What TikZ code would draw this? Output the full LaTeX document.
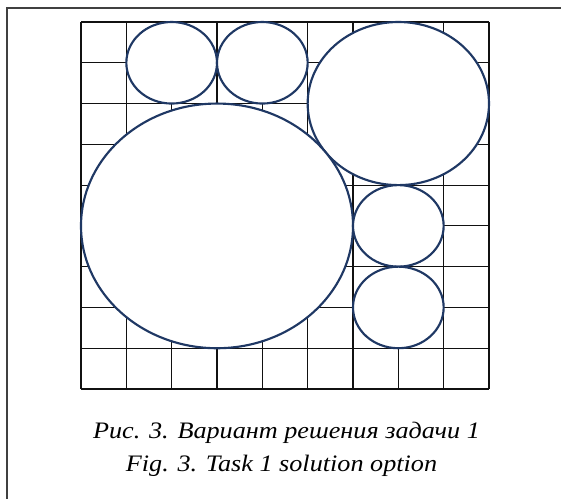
\documentclass[tikz,border=0pt]{standalone}
\usepackage{fontspec}
\setmainfont{Liberation Serif}
\usetikzlibrary{shapes.geometric}
\definecolor{navy}{HTML}{1F3864}
\definecolor{gridc}{HTML}{111111}
\definecolor{framec}{HTML}{404040}
\begin{document}
\begin{tikzpicture}[x=0.75pt,y=-0.75pt,
  gridline/.style={draw=gridc,line width=0.85pt},
  frameline/.style={draw=framec,line width=1.2pt},
  circ/.style={ellipse,draw=navy,fill=white,line width=1.6pt,inner sep=0pt,outer sep=0pt},
  captext/.style={font=\itshape\fontsize{17.7}{21}\selectfont,text=black,inner sep=0pt,anchor=base,xscale=1.11}]
\useasboundingbox (0,0) rectangle (561,499);
\coordinate (fbl) at (7,499);
\coordinate (ftl) at (7,8);
\coordinate (ftr) at (561,8);
\draw[frameline] (fbl) -- (ftl) -- (ftr);
\begin{scope}[shift={(81,22)},x=34pt,y=-30.583pt]
  \foreach \i in {0,...,9} {
    \draw[gridline] (\i,0) -- (\i,9);
    \draw[gridline] (0,\i) -- (9,\i);
  }
  \node[circ,minimum width=68pt,minimum height=61.17pt] (top1) at (2,1) {};
  \node[circ,minimum width=68pt,minimum height=61.17pt] (top2) at (4,1) {};
  \node[circ,minimum width=136pt,minimum height=122.33pt] (bigR) at (7,2) {};
  \node[circ,minimum width=204pt,minimum height=183.5pt] (big) at (3,5) {};
  \node[circ,minimum width=68pt,minimum height=61.17pt] (r1) at (7,5) {};
  \node[circ,minimum width=68pt,minimum height=61.17pt] (r2) at (7,7) {};
\end{scope}
\node[captext] (cap1) at (286.5,438) {Рис. 3. Вариант решения задачи 1};
\node[captext] (cap2) at (281.5,471) {Fig. 3. Task 1 solution option};
\end{tikzpicture}
\end{document}
